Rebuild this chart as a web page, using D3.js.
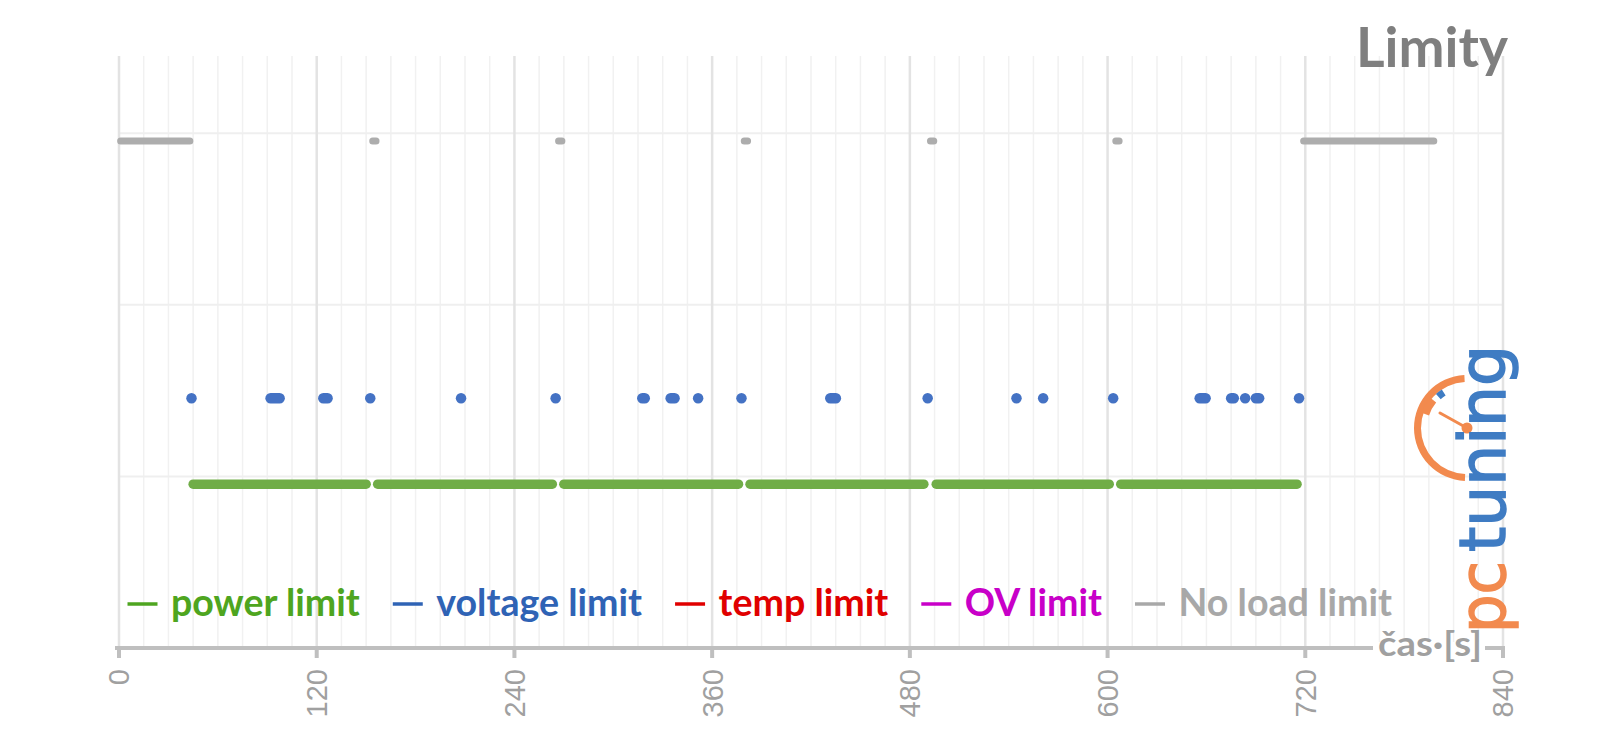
<!DOCTYPE html>
<html><head><meta charset="utf-8">
<script src="https://cdn.jsdelivr.net/npm/d3@7"></script>
<style>body{margin:0;background:#fff}svg{display:block}</style>
</head><body><svg id="c" width="1600" height="745"></svg>
<script>
// ---------- data ----------
const chartTitle = "Limity";
const xTitle = "čas·[s]";
const xTickValues = [0, 120, 240, 360, 480, 600, 720, 840];
const seriesNames = ["power limit", "voltage limit", "temp limit", "OV limit", "No load limit"];
// level on the (hidden) y axis where each limit is plotted
const powerLevel = 0.955;
const voltageLevel = 1.455;
const noLoadLevel = 2.955;
// time runs [start s, end s] during which each limit is active
const powerRuns = [[45,150],[157,263],[270,376],[383,488.5],[496,601],[608,715]];
const voltageRuns = [[44,44],[92,97.5],[124,126.6],[152.5,152.5],[207.6,207.6],[265,265],
  [317.6,319.1],[334.8,337.2],[351.5,351.5],[377.8,377.8],[431.7,435.1],[490.8,490.8],
  [544.7,544.7],[560.9,560.9],[603.4,603.4],[655.9,659.5],[675,676.6],[683.5,683.5],
  [690,692],[716.2,716.2]];
const tempRuns = [];
const ovRuns = [];
const noLoadRuns = [[1,43],[154,156],[266.8,268.8],[379.5,381.5],[492.5,494.5],[605,607],[719,798]];

// ---------- styles ----------
const markColors = ["#70AD47", "#4472C4", "#E00000", "#CC00CC", "#ADADAD"];
const textColors = ["#4EA520", "#2F63B5", "#E00000", "#C800C8", "#A8A8A8"];
const widths = [9.5, 10.5, 9, 9, 7];

const svg = d3.select("#c");
const x = d3.scaleLinear().domain([0, 840]).range([119, 1503]);
const y = d3.scaleLinear().domain([0, 3.45]).range([648, 56]);

// gridlines
const g = svg.append("g");
g.selectAll(".minor").data(d3.range(0, 841, 15).filter(v => v % 120 !== 0)).join("line")
  .attr("x1", d => x(d)).attr("x2", d => x(d)).attr("y1", y(3.45)).attr("y2", y(0))
  .attr("stroke", "#F1F1F1").attr("stroke-width", 1.5);
g.selectAll(".hgrid").data([1, 2, 3]).join("line")
  .attr("x1", x(0)).attr("x2", x(840)).attr("y1", d => y(d)).attr("y2", d => y(d))
  .attr("stroke", "#EFEFEF").attr("stroke-width", 2);
g.selectAll(".major").data(xTickValues).join("line")
  .attr("x1", d => x(d)).attr("x2", d => x(d)).attr("y1", y(3.45)).attr("y2", y(0))
  .attr("stroke", "#E3E3E3").attr("stroke-width", 2.5);

// series
const series = [
  {runs: powerRuns, level: powerLevel},
  {runs: voltageRuns, level: voltageLevel},
  {runs: tempRuns, level: null},
  {runs: ovRuns, level: null},
  {runs: noLoadRuns, level: noLoadLevel}
];
series.forEach((s, i) => {
  if (s.level === null) return;
  svg.append("g").selectAll("line").data(s.runs).join("line")
    .attr("x1", d => x(d[0])).attr("x2", d => x(d[1]) + (d[1] === d[0] ? 0.01 : 0))
    .attr("y1", y(s.level)).attr("y2", y(s.level))
    .attr("stroke", markColors[i]).attr("stroke-width", widths[i])
    .attr("stroke-linecap", "round");
});

// x axis
const ax = svg.append("g");
ax.append("line").attr("x1", x(0) - 4).attr("x2", x(840) + 2).attr("y1", 648).attr("y2", 648)
  .attr("stroke", "#BFBFBF").attr("stroke-width", 4);
ax.selectAll(".tk").data(xTickValues).join("line")
  .attr("x1", d => x(d)).attr("x2", d => x(d)).attr("y1", 648).attr("y2", 658)
  .attr("stroke", "#BFBFBF").attr("stroke-width", 4);
ax.selectAll(".tl").data(xTickValues).join("text")
  .attr("transform", d => `translate(${x(d)},669) rotate(-90)`)
  .attr("text-anchor", "end").attr("dy", "0.36em")
  .attr("font-family", "Liberation Sans, Arial, sans-serif").attr("font-size", 29)
  .attr("fill", "#A0A0A0").text(d => d);
// axis title on the line
ax.append("rect").attr("x", 1373).attr("y", 642).attr("width", 112).attr("height", 12).attr("fill", "#fff");
ax.append("text").attr("x", 1378).attr("y", 656)
  .attr("font-family", "Lato, sans-serif").attr("font-weight", 700).attr("font-size", 34)
  .attr("fill", "#A0A0A0").attr("textLength", 104).attr("lengthAdjust", "spacingAndGlyphs")
  .text(xTitle);

// title
svg.append("text").attr("x", 1508).attr("y", 67).attr("text-anchor", "end")
  .attr("font-family", "Lato, sans-serif").attr("font-weight", 700).attr("font-size", 55)
  .attr("fill", "#7F7F7F").text(chartTitle);

// legend
const lg = svg.append("g");
let lx = 127.5;
seriesNames.forEach((name, i) => {
  lg.append("line").attr("x1", lx).attr("x2", lx + 30).attr("y1", 604).attr("y2", 604)
    .attr("stroke", textColors[i]).attr("stroke-width", 3.5);
  const t = lg.append("text").attr("x", lx + 43.5).attr("y", 616)
    .attr("font-family", "Lato, sans-serif").attr("font-weight", 700).attr("font-size", 37.6)
    .attr("fill", textColors[i]).text(name);
  lx = lx + 43.5 + t.node().getComputedTextLength() + 33;
});

// logo
const logo = svg.append("g");
const cx = 1467, cy = 428;
const orange = "#F28A4E", lblue = "#3F7CC3";
logo.append("path").attr("transform", `translate(${cx},${cy})`)
  .attr("d", d3.arc()({innerRadius: 46, outerRadius: 53, startAngle: -Math.PI + 0.04, endAngle: -0.05}))
  .attr("fill", orange);
logo.append("path").attr("transform", `translate(${cx},${cy})`)
  .attr("d", d3.arc()({innerRadius: 40, outerRadius: 48, startAngle: -1.25, endAngle: -0.88}))
  .attr("fill", orange);
logo.append("path").attr("transform", `translate(${cx},${cy})`)
  .attr("d", d3.arc()({innerRadius: 39, outerRadius: 46, startAngle: -0.74, endAngle: -0.58}))
  .attr("fill", lblue);
logo.append("line").attr("x1", 1440).attr("y1", 413).attr("x2", cx).attr("y2", cy)
  .attr("stroke", orange).attr("stroke-width", 3).attr("stroke-linecap", "round");
logo.append("circle").attr("cx", cx).attr("cy", cy).attr("r", 5.5).attr("fill", orange);
logo.append("text").attr("transform", "translate(1505,552) rotate(-90)")
  .attr("font-family", "DejaVu Sans, sans-serif").attr("font-weight", 400).attr("font-size", 64)
  .attr("textLength", 207).attr("lengthAdjust", "spacingAndGlyphs")
  .attr("stroke", lblue).attr("stroke-width", 1.5)
  .attr("fill", lblue).text("tuning");
logo.append("text").attr("transform", "translate(1505,633) rotate(-90)")
  .attr("font-family", "DejaVu Sans, sans-serif").attr("font-weight", 400).attr("font-size", 64)
  .attr("textLength", 72).attr("lengthAdjust", "spacingAndGlyphs")
  .attr("stroke", orange).attr("stroke-width", 1.5)
  .attr("fill", orange).text("pc");
</script></body></html>
